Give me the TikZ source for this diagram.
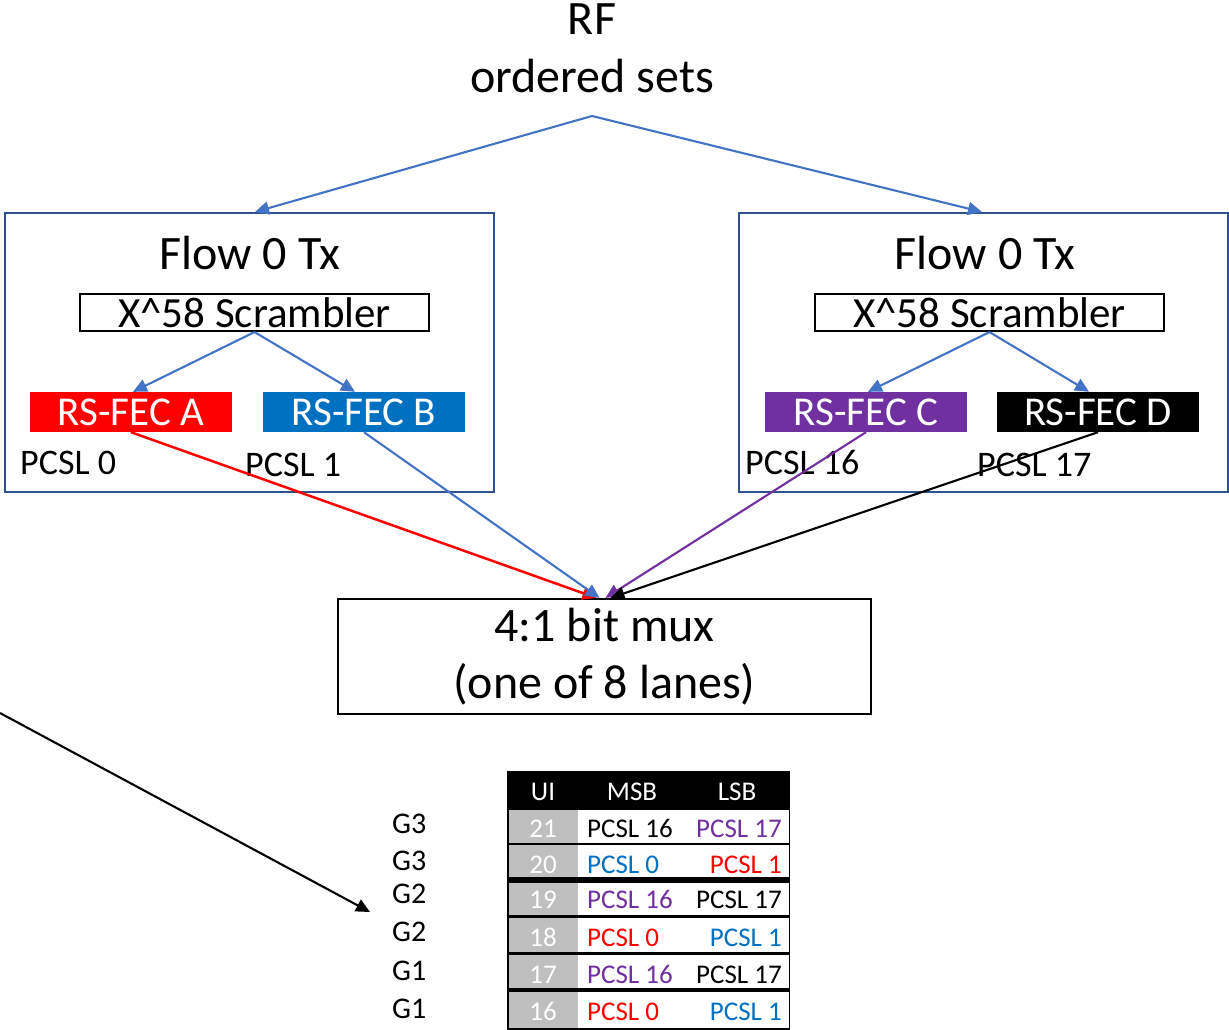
\documentclass[tikz,border=0pt]{standalone}
\usepackage{fontspec}
\setmainfont{Carlito}
\usetikzlibrary{arrows.meta}

\definecolor{linkblue}{RGB}{68,114,196}
\definecolor{frameblue}{RGB}{47,82,143}
\definecolor{fecblue}{RGB}{0,112,192}
\definecolor{fecpurple}{RGB}{112,48,160}
\definecolor{fecred}{RGB}{255,0,0}
\definecolor{cellgray}{RGB}{191,191,191}

\begin{document}
\begin{tikzpicture}[x=1pt,y=-1pt,
  big/.style={font=\fontsize{48}{57}\selectfont},
  tip/.style={-{Triangle[length=14pt,width=13pt]}},
  link/.style={draw=linkblue,line width=2.1pt,tip},
  flowbox/.style={draw=frameblue,line width=2.1pt,minimum width=489pt,minimum height=279pt,inner sep=0pt},
  scrbox/.style={draw=black,line width=2.1pt,minimum width=349pt,minimum height=37pt,inner sep=0pt,
    font=\fontsize{43}{48}\selectfont},
  fecbox/.style={minimum width=202pt,minimum height=40pt,inner sep=0pt,text=white,
    font=\fontsize{41}{44}\selectfont},
  pcsl/.style={font=\fontsize{36}{40}\selectfont,anchor=base west,inner sep=0pt},
  muxbox/.style={draw=black,line width=2.1pt,minimum width=533pt,minimum height=115pt,inner sep=0pt,
    align=center,font=\fontsize{48}{57}\selectfont},
  cell/.style={font=\fontsize{27}{30}\selectfont,inner sep=0pt},
  grp/.style={font=\fontsize{30}{32}\selectfont,anchor=base west,inner sep=0pt},
]
\useasboundingbox (0,0) rectangle (1229,1030);

% source label
\node[big,anchor=base] (rf) at (592,35) {RF};
\node[big,anchor=base] (os) at (592,93) {ordered sets};
\coordinate (apex) at (592,116);

% the two transmit flows
\node[flowbox] (flowL) at (249.5,352.5) {};
\node[flowbox] (flowR) at (983.5,352.5) {};
\node[big,anchor=base] (titleL) at (250,269) {Flow 0 Tx};
\node[big,anchor=base] (titleR) at (985,269) {Flow 0 Tx};

\node[scrbox] (scrL) at (254.5,312.5) {X\textasciicircum58 Scrambler};
\node[scrbox] (scrR) at (989.5,312.5) {X\textasciicircum58 Scrambler};

\node[fecbox,fill=fecred] (fecA) at (131,412) {RS-FEC A};
\node[fecbox,fill=fecblue] (fecB) at (364,412) {RS-FEC B};
\node[fecbox,fill=fecpurple] (fecC) at (866,412) {RS-FEC C};
\node[fecbox,fill=black] (fecD) at (1098,412) {RS-FEC D};

\node[pcsl] (l0) at (20,474) {PCSL 0};
\node[pcsl] (l1) at (245,476) {PCSL 1};
\node[pcsl] (l16) at (745,474) {PCSL 16};
\node[pcsl] (l17) at (977,476) {PCSL 17};

% multiplexer
\node[muxbox] (mux) at (604.5,656.5) {4:1 bit mux\\(one of 8 lanes)};

% connectors
\draw[link] (apex) -- ([xshift=5.5pt]flowL.north);
\draw[link] (apex) -- ([xshift=-1.5pt]flowR.north);
\draw[link] (scrL.south) -- ([xshift=2pt]fecA.north);
\draw[link] (scrL.south) -- ([xshift=-9pt]fecB.north);
\draw[link] (scrR.south) -- ([xshift=2pt]fecC.north);
\draw[link] (scrR.south) -- ([xshift=-9pt]fecD.north);

\draw[draw=fecred,line width=2.5pt,tip] (fecA.south) -- ([xshift=-8pt]mux.north);
\draw[link] (fecB.south) -- ([xshift=-5pt]mux.north);
\draw[draw=fecpurple,line width=2.1pt,tip] (fecC.south) -- ([xshift=1pt]mux.north);
\draw[draw=black,line width=2.1pt,tip] (fecD.south) -- ([xshift=6pt]mux.north);

\coordinate (offL) at (0,713);
\coordinate (gmark) at (370,912);
\draw[draw=black,line width=2.1pt,tip] (offL) -- (gmark);

% lane table
\fill[black] (507,771) rectangle (790,1029.5);
\node[cell,text=white,anchor=base] (hUI) at (543,800) {UI};
\node[cell,text=white,anchor=base] (hMSB) at (632,800) {MSB};
\node[cell,text=white,anchor=base] (hLSB) at (737,800) {LSB};
\foreach \n/\ya/\yb/\bl/\g/\gb/\ma/\mc/\la/\lc in {
  21/809.5/842.5/837.5/G3/833/PCSL 16/black/PCSL 17/fecpurple,
  20/845/876.5/873/G3/870/PCSL 0/fecblue/PCSL 1/fecred,
  19/883/914.5/908.5/G2/903/PCSL 16/fecpurple/PCSL 17/black,
  18/917.5/951.5/946.5/G2/941/PCSL 0/fecred/PCSL 1/fecblue,
  17/954.5/988/983/G1/980/PCSL 16/fecpurple/PCSL 17/black,
  16/991.5/1028/1020/G1/1018/PCSL 0/fecred/PCSL 1/fecblue}{
  \fill[cellgray] (508.5,\ya) rectangle (578,\yb);
  \fill[white] (578,\ya) rectangle (788.5,\yb);
  \node[cell,text=white,anchor=base] (ui\n) at (543,\bl) {\n};
  \node[cell,text=\mc,anchor=base west] (msb\n) at (587,\bl) {\ma};
  \node[cell,text=\lc,anchor=base east] (lsb\n) at (782,\bl) {\la};
  \node[grp] (g\n) at (392,\gb) {\g};
}
\end{tikzpicture}
\end{document}
